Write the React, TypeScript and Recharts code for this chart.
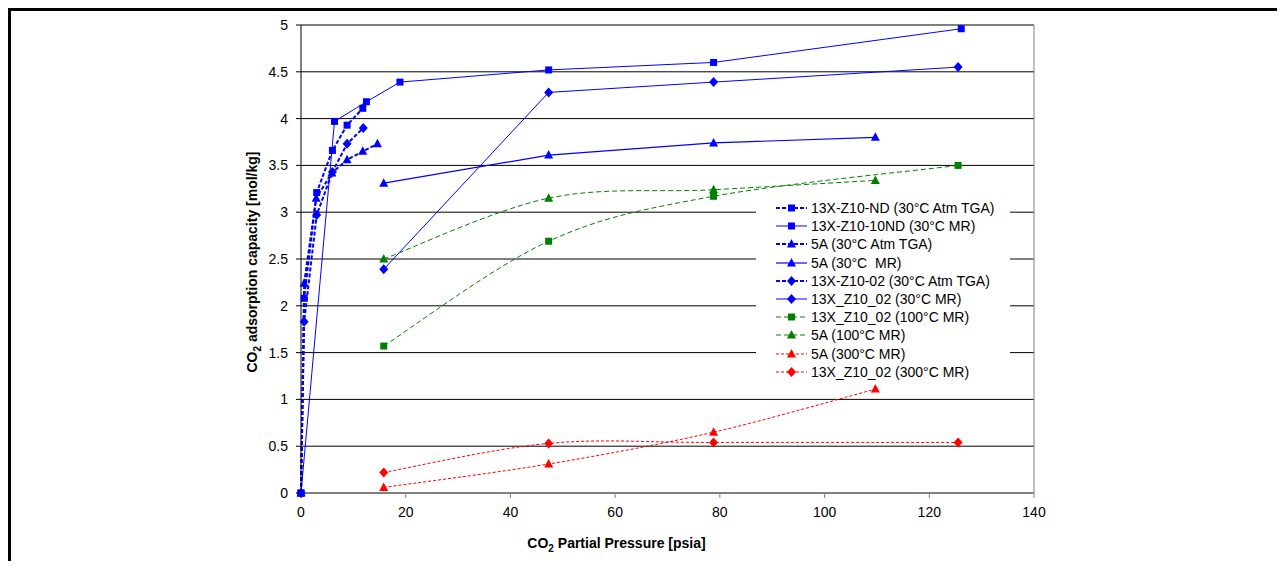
import {
  CartesianGrid,
  Label,
  Legend,
  Line,
  LineChart,
  ReferenceLine,
  XAxis,
  YAxis,
} from "recharts";

const FONT = "'Liberation Sans', Arial, sans-serif";

// pressure [psia] / capacity [mol/kg]
const ndTgaP = [0, 0.6, 3.0, 6.0, 8.8, 11.8];
const ndTgaQ = [0, 2.08, 3.21, 3.66, 3.93, 4.11];
const nd10MrP = [0, 6.4, 12.5, 18.9, 47.3, 78.8, 126.1];
const nd10MrQ = [0, 3.97, 4.18, 4.39, 4.52, 4.6, 4.96];
const a5TgaP = [0, 0.6, 2.9, 5.9, 8.8, 11.8, 14.6];
const a5TgaQ = [0, 2.24, 3.15, 3.42, 3.56, 3.65, 3.73];
const a5MrP = [15.8, 47.3, 78.8, 109.7];
const a5MrQ = [3.31, 3.61, 3.74, 3.8];
const z02TgaP = [0, 0.6, 3.0, 6.0, 8.8, 11.9];
const z02TgaQ = [0, 1.83, 2.97, 3.43, 3.73, 3.9];
const z02MrP = [15.8, 47.3, 78.8, 125.5];
const z02MrQ = [2.39, 4.28, 4.39, 4.55];
const z02At100P = [15.8, 47.3, 78.8, 125.5];
const z02At100Q = [1.57, 2.69, 3.17, 3.5];
const a5At100P = [15.8, 47.3, 78.8, 109.7];
const a5At100Q = [2.5, 3.15, 3.24, 3.34];
const a5At300P = [15.8, 47.3, 78.8, 109.7];
const a5At300Q = [0.06, 0.31, 0.65, 1.11];
const z02At300P = [15.8, 47.3, 78.8, 125.5];
const z02At300Q = [0.22, 0.53, 0.54, 0.54];

const xTicks = [0, 20, 40, 60, 80, 100, 120, 140];
const yTicks = [0, 0.5, 1, 1.5, 2, 2.5, 3, 3.5, 4, 4.5, 5];

const BLUE = "#0000FF";
const GREEN = "#008000";
const RED = "#FF0000";

type Shape = "square" | "triangle" | "diamond";

// Excel-style smoothed line (bezier through the points)
const smooth = (context: any) => {
  let pts: number[][] = [];
  return {
    areaStart() {},
    areaEnd() {},
    lineStart() {
      pts = [];
    },
    point(x: number, y: number) {
      pts.push([+x, +y]);
    },
    lineEnd() {
      const n = pts.length;
      if (!n) return;
      context.moveTo(pts[0][0], pts[0][1]);
      for (let i = 0; i < n - 1; i++) {
        const p0 = pts[Math.max(i - 1, 0)];
        const p1 = pts[i];
        const p2 = pts[i + 1];
        const p3 = pts[Math.min(i + 2, n - 1)];
        context.bezierCurveTo(
          p1[0] + (p2[0] - p0[0]) / 6,
          p1[1] + (p2[1] - p0[1]) / 6,
          p2[0] - (p3[0] - p1[0]) / 6,
          p2[1] - (p3[1] - p1[1]) / 6,
          p2[0],
          p2[1]
        );
      }
    },
  };
};

const toPoints = (p: number[], q: number[]) => p.map((x, i) => ({ x, y: q[i] }));

const series = [
  { name: "13X-Z10-ND (30°C Atm TGA)", data: toPoints(ndTgaP, ndTgaQ), color: BLUE, width: 2, dash: "4 2", shape: "square" as Shape, curve: "linear" as any },
  { name: "13X-Z10-10ND (30°C MR)", data: toPoints(nd10MrP, nd10MrQ), color: BLUE, width: 1, dash: undefined, shape: "square" as Shape, curve: "linear" as any },
  { name: "5A (30°C Atm TGA)", data: toPoints(a5TgaP, a5TgaQ), color: BLUE, width: 2, dash: "4 2", shape: "triangle" as Shape, curve: "linear" as any },
  { name: "5A (30°C  MR)", data: toPoints(a5MrP, a5MrQ), color: BLUE, width: 1.2, dash: undefined, shape: "triangle" as Shape, curve: "linear" as any },
  { name: "13X-Z10-02 (30°C Atm TGA)", data: toPoints(z02TgaP, z02TgaQ), color: BLUE, width: 2, dash: "4 2", shape: "diamond" as Shape, curve: "linear" as any },
  { name: "13X_Z10_02 (30°C MR)", data: toPoints(z02MrP, z02MrQ), color: BLUE, width: 1, dash: undefined, shape: "diamond" as Shape, curve: "linear" as any },
  { name: "13X_Z10_02 (100°C MR)", data: toPoints(z02At100P, z02At100Q), color: GREEN, width: 1, dash: "5 3", shape: "square" as Shape, curve: smooth },
  { name: "5A (100°C MR)", data: toPoints(a5At100P, a5At100Q), color: GREEN, width: 1, dash: "5 3", shape: "triangle" as Shape, curve: smooth },
  { name: "5A (300°C MR)", data: toPoints(a5At300P, a5At300Q), color: RED, width: 1, dash: "3 2", shape: "triangle" as Shape, curve: smooth },
  { name: "13X_Z10_02 (300°C MR)", data: toPoints(z02At300P, z02At300Q), color: RED, width: 1, dash: "3 2", shape: "diamond" as Shape, curve: smooth },
];

function Marker({ cx, cy, shape, color }: { cx?: number; cy?: number; shape: Shape; color: string }) {
  if (cx == null || cy == null) return null;
  if (shape === "square") {
    return <rect x={cx - 3.5} y={cy - 3.5} width={7} height={7} fill={color} />;
  }
  if (shape === "triangle") {
    return <polygon points={`${cx},${cy - 5} ${cx + 4.5},${cy + 3.5} ${cx - 4.5},${cy + 3.5}`} fill={color} />;
  }
  return <polygon points={`${cx},${cy - 5} ${cx + 4.5},${cy} ${cx},${cy + 5} ${cx - 4.5},${cy}`} fill={color} />;
}

function LegendBox() {
  return (
    <div style={{ background: "#fff", width: 254, fontFamily: FONT, fontSize: 14, color: "#000" }}>
      {series.map((s) => (
        <div key={s.name} style={{ display: "flex", alignItems: "center", height: 18.2 }}>
          <svg width={55} height={18} style={{ flex: "none" }}>
            <line x1={20} x2={51} y1={9} y2={9} stroke={s.color} strokeWidth={s.width} strokeDasharray={s.dash} />
            <Marker cx={35.5} cy={9} shape={s.shape} color={s.color} />
          </svg>
          <span style={{ whiteSpace: "pre", lineHeight: "18px" }}>{s.name}</span>
        </div>
      ))}
    </div>
  );
}

export default function App() {
  return (
    <div style={{ borderTop: "3px solid #000", borderLeft: "3px solid #000", width: 1266, height: 550, fontFamily: FONT }}>
      <LineChart width={1266} height={550} margin={{ top: 14, right: 243, bottom: 28, left: 240 }}>
        <CartesianGrid vertical={false} stroke="#000" />
        <XAxis
          type="number"
          dataKey="x"
          domain={[0, 140]}
          ticks={xTicks}
          height={40}
          tickSize={5}
          tickMargin={9}
          stroke="#808080"
          tick={{ fill: "#000", fontSize: 14, fontFamily: FONT }}
        >
          <Label
            content={({ viewBox }: any) => (
              <text
                x={viewBox.x + viewBox.width / 2 - 51}
                y={viewBox.y + 55}
                textAnchor="middle"
                fontSize={14}
                fontWeight="bold"
                fontFamily={FONT}
                fill="#000"
              >
                CO<tspan dy={4} fontSize={10}>2</tspan>
                <tspan dy={-4}> Partial Pressure [psia]</tspan>
              </text>
            )}
          />
        </XAxis>
        <YAxis
          type="number"
          domain={[0, 5]}
          ticks={yTicks}
          width={50}
          tickSize={5}
          tickMargin={8}
          stroke="#000"
          tick={{ fill: "#000", fontSize: 14, fontFamily: FONT }}
        >
          <Label
            content={({ viewBox }: any) => {
              const cx = viewBox.x + 6;
              const cy = viewBox.y + viewBox.height / 2 + 3;
              return (
                <text
                  x={cx}
                  y={cy}
                  transform={`rotate(-90, ${cx}, ${cy})`}
                  textAnchor="middle"
                  fontSize={14}
                  fontWeight="bold"
                  fontFamily={FONT}
                  fill="#000"
                >
                  CO<tspan dy={4} fontSize={10}>2</tspan>
                  <tspan dy={-4}> adsorption capacity [mol/kg]</tspan>
                </text>
              );
            }}
          />
        </YAxis>
        <ReferenceLine x={140} stroke="#808080" />
        {series.map((s) => (
          <Line
            key={s.name}
            name={s.name}
            data={s.data}
            dataKey="y"
            type={s.curve}
            stroke={s.color}
            strokeWidth={s.width}
            strokeDasharray={s.dash}
            dot={(p: any) => (
              <Marker key={`${s.name}-${p.index}`} cx={p.cx} cy={p.cy} shape={s.shape} color={s.color} />
            )}
            activeDot={false}
            isAnimationActive={false}
          />
        ))}
        <Legend
          layout="vertical"
          verticalAlign="middle"
          align="center"
          content={() => <LegendBox />}
          wrapperStyle={{ left: 745, top: 188, width: 254 }}
        />
      </LineChart>
    </div>
  );
}
